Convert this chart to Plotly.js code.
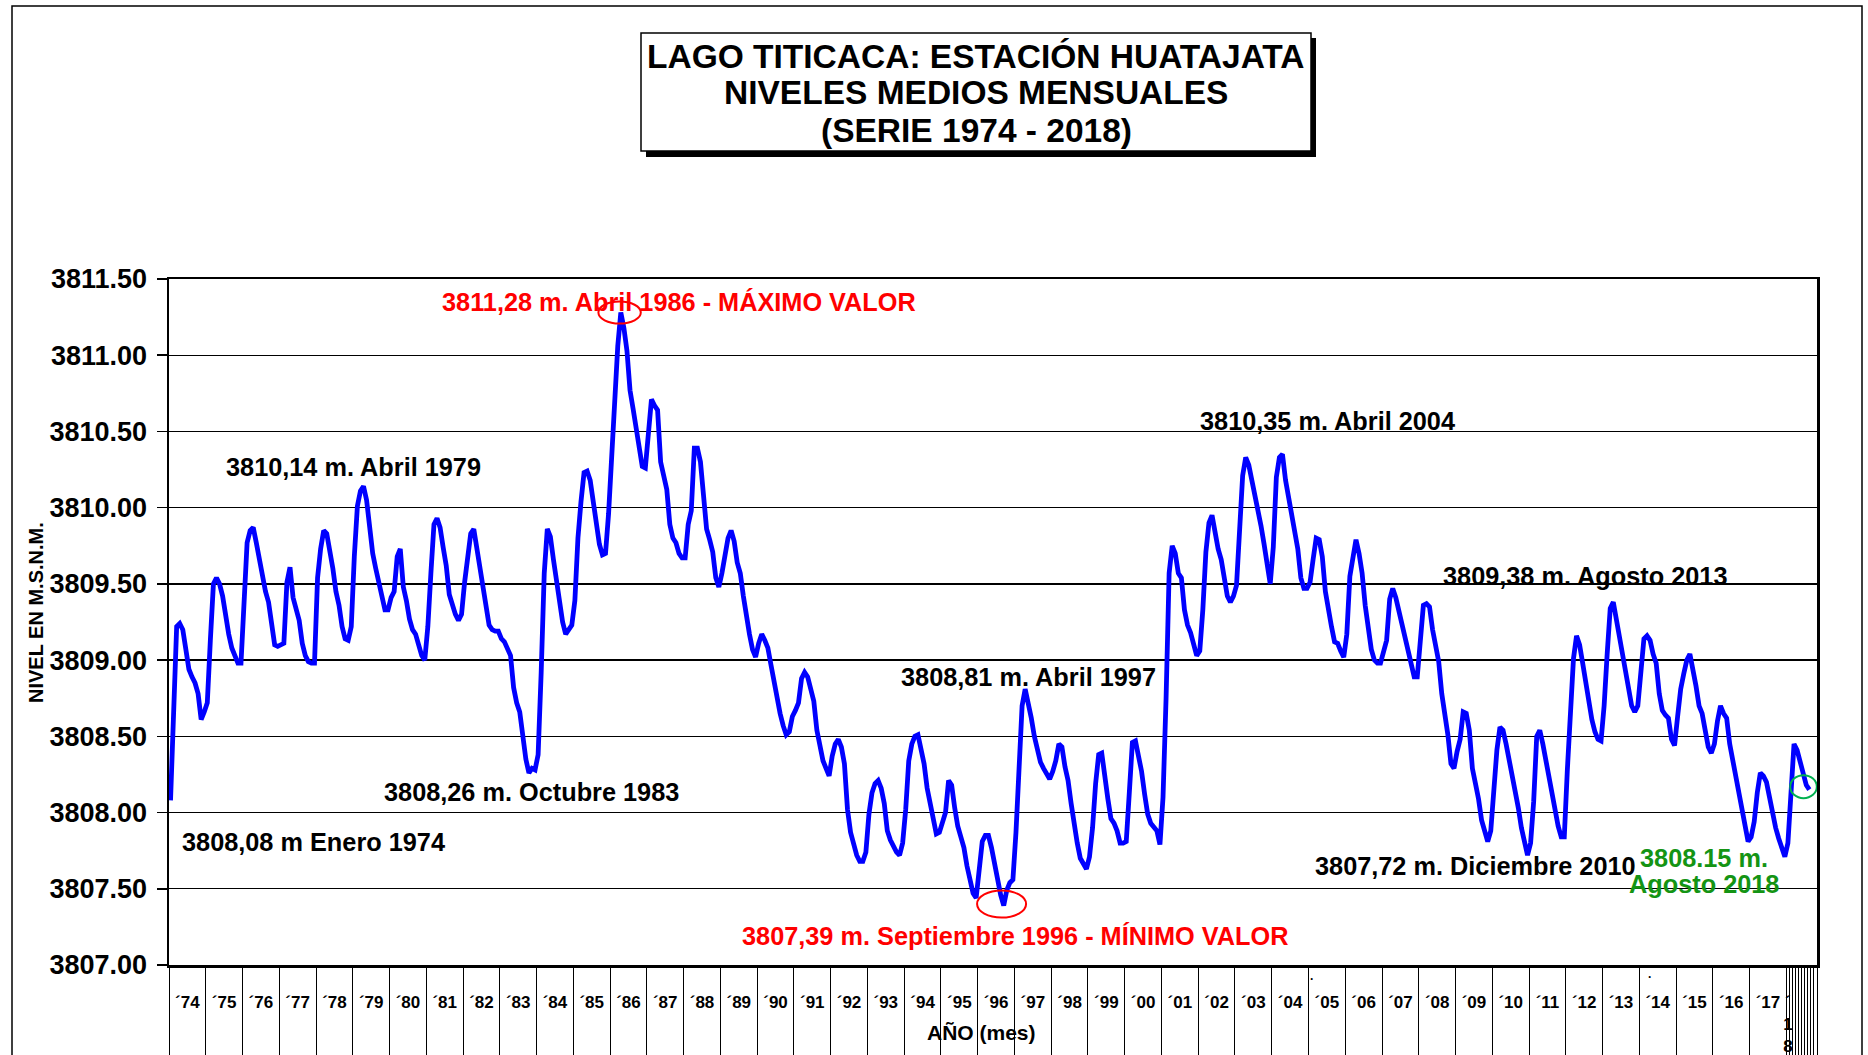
<!DOCTYPE html>
<html>
<head>
<meta charset="utf-8">
<script src="https://cdn.plot.ly/plotly-3.0.1.min.js"></script>
<style>
html,body{margin:0;padding:0;background:#ffffff;}
#chart{width:1868px;height:1055px;}
</style>
</head>
<body>
<div id="chart"></div>
<script>
// ---- DATA: monthly mean level (m.s.n.m.), Jan 1974 .. Aug 2018 ----
const nivel1974_1979 = [
 3808.08,3808.75,3809.22,3809.24,3809.20,3809.07,3808.94,3808.89,3808.85,3808.78,3808.61,3808.66,
 3808.72,3809.13,3809.50,3809.54,3809.50,3809.42,3809.27,3809.17,3809.08,3809.03,3808.98,3808.98,
 3809.33,3809.77,3809.85,3809.87,3809.77,3809.66,3809.54,3809.45,3809.38,3809.25,3809.10,3809.09,
 3809.10,3809.11,3809.51,3809.61,3809.41,3809.33,3809.26,3809.11,3809.03,3808.99,3808.98,3808.98,
 3809.54,3809.73,3809.85,3809.83,3809.73,3809.60,3809.45,3809.36,3809.22,3809.14,3809.13,3809.22,
 3809.68,3810.01,3810.11,3810.14,3810.05,3809.87,3809.70,3809.60,3809.52,3809.44,3809.33,3809.33
];
const nivel1980_1989 = [
 3809.41,3809.45,3809.68,3809.73,3809.48,3809.39,3809.27,3809.20,3809.17,3809.10,3809.03,3809.00,
 3809.22,3809.57,3809.89,3809.93,3809.87,3809.74,3809.62,3809.43,3809.35,3809.30,3809.26,3809.30,
 3809.51,3809.68,3809.83,3809.86,3809.73,3809.57,3809.45,3809.32,3809.23,3809.20,3809.19,3809.19,
 3809.14,3809.12,3809.08,3809.03,3808.82,3808.72,3808.66,3808.48,3808.35,3808.26,3808.29,3808.28,
 3808.38,3808.92,3809.57,3809.86,3809.81,3809.66,3809.51,3809.36,3809.25,3809.17,3809.20,3809.23,
 3809.39,3809.80,3810.04,3810.23,3810.24,3810.18,3810.04,3809.89,3809.76,3809.69,3809.70,3809.96,
 3810.36,3810.68,3811.06,3811.28,3811.18,3811.03,3810.77,3810.65,3810.53,3810.39,3810.27,3810.26,
 3810.50,3810.71,3810.67,3810.64,3810.30,3810.21,3810.12,3809.89,3809.80,3809.77,3809.70,3809.67,
 3809.67,3809.89,3809.98,3810.39,3810.39,3810.30,3810.07,3809.86,3809.79,3809.71,3809.54,3809.48,
 3809.57,3809.70,3809.80,3809.85,3809.78,3809.64,3809.57,3809.42,3809.27,3809.17,3809.07,3809.02
];
const nivel1990_1999 = [
 3809.11,3809.17,3809.13,3809.08,3808.97,3808.86,3808.73,3808.65,3808.57,3808.51,3808.53,3808.63,
 3808.67,3808.72,3808.88,3808.92,3808.89,3808.82,3808.73,3808.54,3808.43,3808.34,3808.29,3808.24,
 3808.37,3808.45,3808.48,3808.43,3808.32,3808.02,3807.87,3807.78,3807.72,3807.68,3807.68,3807.74,
 3807.99,3808.13,3808.19,3808.21,3808.16,3808.06,3807.88,3807.82,3807.77,3807.74,3807.72,3807.80,
 3808.02,3808.34,3808.45,3808.50,3808.51,3808.43,3808.32,3808.16,3808.06,3807.93,3807.86,3807.87,
 3807.94,3808.00,3808.21,3808.18,3808.03,3807.91,3807.84,3807.77,3807.65,3807.56,3807.47,3807.44,
 3807.66,3807.81,3807.85,3807.85,3807.77,3807.67,3807.55,3807.46,3807.39,3807.49,3807.54,3807.56,
 3807.87,3808.34,3808.70,3808.81,3808.73,3808.62,3808.50,3808.41,3808.33,3808.29,3808.26,3808.22,
 3808.27,3808.34,3808.45,3808.43,3808.30,3808.21,3808.06,3807.91,3807.80,3807.70,3807.66,3807.63,
 3807.71,3807.90,3808.19,3808.38,3808.39,3808.22,3808.09,3807.96,3807.93,3807.88,3807.80,3807.80
];
const nivel2000_2009 = [
 3807.81,3808.13,3808.46,3808.47,3808.37,3808.27,3808.12,3807.99,3807.93,3807.91,3807.88,3807.79,
 3808.10,3808.75,3809.57,3809.75,3809.70,3809.57,3809.54,3809.33,3809.23,3809.18,3809.10,3809.03,
 3809.06,3809.33,3809.71,3809.90,3809.95,3809.83,3809.73,3809.66,3809.55,3809.42,3809.38,3809.42,
 3809.49,3809.89,3810.21,3810.33,3810.28,3810.18,3810.08,3810.01,3809.88,3809.76,3809.62,3809.50,
 3809.74,3810.20,3810.33,3810.35,3810.18,3810.06,3809.94,3809.83,3809.73,3809.54,3809.47,3809.47,
 3809.51,3809.66,3809.80,3809.79,3809.68,3809.45,3809.32,3809.22,3809.12,3809.11,3809.06,3809.02,
 3809.17,3809.55,3809.67,3809.79,3809.70,3809.57,3809.36,3809.22,3809.07,3809.00,3808.98,3808.98,
 3809.06,3809.13,3809.40,3809.47,3809.41,3809.32,3809.22,3809.13,3809.06,3808.97,3808.89,3808.89,
 3809.10,3809.36,3809.37,3809.35,3809.20,3809.07,3808.99,3808.78,3808.66,3808.51,3808.32,3808.29,
 3808.40,3808.48,3808.66,3808.65,3808.54,3808.29,3808.19,3808.09,3807.95,3807.87,3807.81,3807.88
];
const nivel2010_2018 = [
 3808.15,3808.41,3808.56,3808.54,3808.45,3808.35,3808.26,3808.16,3808.03,3807.90,3807.81,3807.72,
 3807.80,3808.07,3808.50,3808.54,3808.45,3808.34,3808.26,3808.13,3808.03,3807.91,3807.84,3807.84,
 3808.28,3808.62,3809.01,3809.16,3809.10,3808.98,3808.86,3808.70,3808.61,3808.53,3808.48,3808.47,
 3808.70,3809.04,3809.34,3809.38,3809.27,3809.14,3809.03,3808.93,3808.79,3808.70,3808.66,3808.70,
 3808.92,3809.14,3809.16,3809.13,3809.04,3808.98,3808.78,3808.67,3808.64,3808.62,3808.48,3808.44,
 3808.63,3808.81,3808.91,3809.00,3809.04,3808.95,3808.83,3808.70,3808.65,3808.54,3808.43,3808.39,
 3808.45,3808.60,3808.70,3808.65,3808.62,3808.45,3808.34,3808.25,3808.10,3808.00,3807.88,3807.81,
 3807.84,3807.94,3808.13,3808.26,3808.24,3808.20,3808.10,3807.99,3807.90,3807.83,3807.77,3807.71,
 3807.80,3808.19,3808.45,3808.41,3808.34,3808.25,3808.18,3808.15
];
const yearLabels = ['´74','´75','´76','´77','´78','´79','´80','´81','´82','´83',
 '´84','´85','´86','´87','´88','´89','´90','´91','´92','´93',
 '´94','´95','´96','´97','´98','´99','´00','´01','´02','´03',
 '´04','´05','´06','´07','´08','´09','´10','´11','´12','´13',
 '´14','´15','´16','´17','´<br>1<br>8'];
const titleLines = ['LAGO TITICACA: ESTACIÓN HUATAJATA','NIVELES MEDIOS MENSUALES','(SERIE 1974 - 2018)'];
const noteMax = '3811,28 m. Abril 1986 - MÁXIMO VALOR';
const noteMin = '3807,39 m. Septiembre 1996 - MÍNIMO VALOR';
const noteLast = ['3808.15 m.','Agosto 2018'];
const notesBlack = ['3810,14 m. Abril 1979','3808,26 m. Octubre 1983','3808,08 m Enero 1974',
 '3808,81 m. Abril 1997','3810,35 m. Abril 2004','3809,38 m. Agosto 2013','3807,72 m. Diciembre 2010'];

// ---- build series ----
const levels = [].concat(nivel1974_1979, nivel1980_1989, nivel1990_1999, nivel2000_2009, nivel2010_2018);
const idx = levels.map((_, i) => i);

// ---- geometry ----
const W = 1868, H = 1055;
const L = 169, R = 1817, T = 279, B = 965;
const NCAT = 538;               // category slots on the axis (incl. empty ones at the end)
const YMIN = 3807, YMAX = 3811.5;
const paperX = p => (p - L) / (R - L);
const paperY = p => (B - p) / (B - T);
const unitX = px => px / (R - L) * NCAT;
const unitY = px => px / (B - T) * (YMAX - YMIN);

const FONT = 'Liberation Sans, Arial, Helvetica, sans-serif';

// year ticks
const nYears = yearLabels.length;
const labelVals = [];
for (let k = 0; k < nYears - 1; k++) labelVals.push(12 * k + 5.5);
labelVals.push(12 * (nYears - 1));
const boundaryVals = [];
for (let k = 0; k < nYears; k++) boundaryVals.push(12 * k - 0.5);
for (let m = 12 * (nYears - 1) + 0.5; m <= NCAT - 0.5; m += 1) boundaryVals.push(m);

// key points
let iMax = 0, iMin = 0;
levels.forEach((v, i) => { if (v > levels[iMax]) iMax = i; if (v < levels[iMin]) iMin = i; });
const iLast = levels.length - 1;

const trace = {
  x: idx, y: levels, type: 'scatter', mode: 'lines',
  line: {color: '#0000FF', width: 4.8}, hoverinfo: 'skip', showlegend: false
};

function txt(text, px, py, size, color, extra) {
  return Object.assign({
    text: text, xref: 'paper', yref: 'paper', x: paperX(px), y: paperY(py),
    xanchor: 'center', yanchor: 'middle', showarrow: false,
    font: {family: FONT, size: size, color: color, weight: 'bold'}
  }, extra || {});
}

const annotations = [
  txt(titleLines[0], 976, 57, 33.5, '#000'),
  txt(titleLines[1], 976, 93, 33.5, '#000'),
  txt(titleLines[2], 976, 130, 33.5, '#000'),
  txt(noteMax, 679, 302, 25.3, '#FF0000'),
  txt(noteMin, 1015, 936, 25.3, '#FF0000'),
  txt(notesBlack[0], 353, 467, 25.3, '#000'),
  txt(notesBlack[1], 531, 792, 25.3, '#000'),
  txt(notesBlack[2], 313, 842, 25.3, '#000'),
  txt(notesBlack[3], 1028, 677, 25.3, '#000'),
  txt(notesBlack[4], 1327, 421, 25.3, '#000'),
  txt(notesBlack[5], 1585, 576, 25.3, '#000'),
  txt(notesBlack[6], 1475, 866, 25.3, '#000'),
  txt(noteLast[0], 1704, 858, 25.3, '#149414'),
  txt(noteLast[1], 1704, 884, 25.3, '#149414'),
  txt('NIVEL EN M.S.N.M.', 36, 613, 20, '#000', {textangle: -90}),
  txt('AÑO (mes)', 981, 1032, 21, '#000'),
  txt('·', 1312, 979, 12, '#000'),
  txt('·', 1650, 977, 12, '#000')
];

const shapes = [
  // outer frame
  {type: 'rect', xref: 'paper', yref: 'paper', x0: paperX(12), x1: paperX(1862), y0: paperY(6), y1: paperY(1075),
   line: {color: '#000', width: 1.5}, fillcolor: 'rgba(0,0,0,0)', layer: 'below'},
  // title box shadow + box
  {type: 'rect', xref: 'paper', yref: 'paper', x0: paperX(646), x1: paperX(1316), y0: paperY(38), y1: paperY(157),
   line: {width: 0}, fillcolor: '#000'},
  {type: 'rect', xref: 'paper', yref: 'paper', x0: paperX(641), x1: paperX(1311), y0: paperY(33), y1: paperY(151),
   line: {color: '#000', width: 1.5}, fillcolor: '#fff'},
  // ellipse around max
  {type: 'circle', xref: 'x', yref: 'y', x0: iMax - 0.4 - unitX(21.2), x1: iMax - 0.4 + unitX(21.2),
   y0: levels[iMax] - unitY(11), y1: levels[iMax] + unitY(11), line: {color: '#FF0000', width: 2}},
  // ellipse around min
  {type: 'circle', xref: 'x', yref: 'y', x0: iMin - 0.7 - unitX(24.5), x1: iMin - 0.7 + unitX(24.5),
   y0: levels[iMin] + 0.01 - unitY(13.5), y1: levels[iMin] + 0.01 + unitY(13.5), line: {color: '#FF0000', width: 2}},
  // circle around last value
  {type: 'circle', xref: 'x', yref: 'y', x0: iLast - 1.9 - unitX(13.3), x1: iLast - 1.9 + unitX(13.3),
   y0: levels[iLast] + 0.02 - unitY(11.5), y1: levels[iLast] + 0.02 + unitY(11.5), line: {color: '#00B050', width: 2}}
];

const layout = {
  width: W, height: H,
  margin: {l: L, r: W - R, t: T, b: H - B, pad: 0},
  paper_bgcolor: '#fff', plot_bgcolor: '#fff',
  showlegend: false,
  font: {family: FONT, color: '#000'},
  xaxis: {
    range: [-0.5, NCAT - 0.5], fixedrange: true,
    showgrid: false, zeroline: false,
    showline: true, mirror: true, linecolor: '#000', linewidth: 2.5,
    tickmode: 'array', tickvals: labelVals, ticktext: yearLabels,
    ticks: 'outside', ticklen: 1, tickcolor: 'rgba(0,0,0,0)',
    ticklabelstandoff: 19,
    tickangle: 0,
    tickfont: {family: FONT, size: 17, color: '#000', weight: 'bold'},
    minor: {tickmode: 'array', tickvals: boundaryVals, ticks: 'outside', ticklen: 92,
            tickwidth: 1, tickcolor: '#000', showgrid: false}
  },
  yaxis: {
    range: [YMIN, YMAX], fixedrange: true,
    tickmode: 'linear', tick0: YMIN, dtick: 0.5, tickformat: '.2f',
    showgrid: true, gridcolor: '#000', gridwidth: 1.3, zeroline: false,
    showline: true, mirror: true, linecolor: '#000', linewidth: 2.5,
    ticks: 'outside', ticklen: 10, tickwidth: 1.5, tickcolor: '#000',
    ticklabelstandoff: 4,
    tickfont: {family: FONT, size: 27, color: '#000', weight: 'bold'}
  },
  annotations: annotations,
  shapes: shapes
};

Plotly.newPlot('chart', [trace], layout, {displayModeBar: false, staticPlot: true});
</script>
</body>
</html>
